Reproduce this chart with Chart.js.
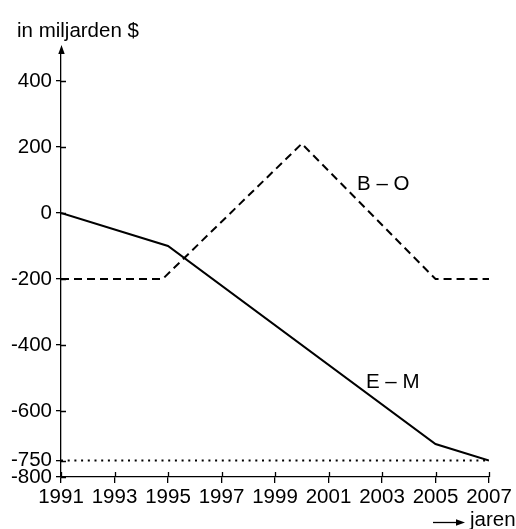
<!DOCTYPE html>
<html>
<head>
<meta charset="utf-8">
<script src="https://cdn.jsdelivr.net/npm/chart.js@4/dist/chart.umd.min.js"></script>
<style>html,body{margin:0;padding:0;background:#fff;}canvas{display:block;}</style>
</head>
<body>
<canvas id="c" width="516" height="529"></canvas>
<script>
// ---- data ----
const yearsEM = [1991, 1995, 2005, 2007];
const valuesEM = [0, -100, -700, -750];
const yearsBO = [1991, 1994.8, 2000, 2005, 2007];
const valuesBO = [-200, -200, 210, -200, -200];
const yearsRef = [1991, 2007];
const valuesRef = [-750, -750];
const yTickValues = [-800, -750, -600, -400, -200, 0, 200, 400];
const xTickValues = [1991, 1993, 1995, 1997, 1999, 2001, 2003, 2005, 2007];
const seriesLabels = ['E – M', 'B – O'];
const yAxisLabel = 'in miljarden $';
const xAxisLabel = 'jaren';

const FONT = '"Liberation Sans", Arial, sans-serif';
const FS = 20.5;

function pts(xs, ys) { return xs.map((x, i) => ({x: x, y: ys[i]})); }

const extras = {
  id: 'extras',
  afterDraw(chart) {
    const ctx = chart.ctx;
    const xs = chart.scales.x, ys = chart.scales.y;
    const ax = xs.left, ay = ys.bottom;
    ctx.save();
    ctx.strokeStyle = '#000';
    ctx.fillStyle = '#000';
    ctx.lineWidth = 1.3;
    // inner halves of tick marks
    ctx.beginPath();
    yTickValues.forEach(v => { const p = Math.round(ys.getPixelForValue(v)) + 0.5; ctx.moveTo(ax, p); ctx.lineTo(ax + 5, p); });
    xTickValues.forEach(v => { const p = Math.round(xs.getPixelForValue(v)) + 0.5; ctx.moveTo(p, ay); ctx.lineTo(p, ay - 5); });
    ctx.stroke();
    // arrow on y axis
    const top = ys.top;
    ctx.beginPath();
    ctx.moveTo(ax + 0.5, top - 5);
    ctx.lineTo(ax + 0.5 - 3.2, top + 4);
    ctx.lineTo(ax + 0.5 + 3.2, top + 4);
    ctx.closePath();
    ctx.fill();
    // texts
    ctx.font = FS + 'px ' + FONT;
    ctx.textBaseline = 'middle';
    ctx.textAlign = 'left';
    ctx.fillText(yAxisLabel, 17, 31);
    ctx.fillText(seriesLabels[1], xs.getPixelForValue(2002.07), ys.getPixelForValue(88));
    ctx.fillText(seriesLabels[0], xs.getPixelForValue(2002.4), ys.getPixelForValue(-512));
    ctx.fillText(xAxisLabel, 470, 520);
    // jaren arrow
    ctx.beginPath();
    ctx.moveTo(433, 522.5); ctx.lineTo(458, 522.5);
    ctx.stroke();
    ctx.beginPath();
    ctx.moveTo(465, 522.5); ctx.lineTo(456, 519.3); ctx.lineTo(456, 525.7); ctx.closePath();
    ctx.fill();
    ctx.restore();
  }
};

new Chart(document.getElementById('c'), {
  type: 'line',
  data: {
    datasets: [
      { label: seriesLabels[0], data: pts(yearsEM, valuesEM), borderColor: '#000', borderWidth: 2, pointRadius: 0, tension: 0, fill: false },
      { label: seriesLabels[1], data: pts(yearsBO, valuesBO), borderColor: '#000', borderWidth: 2, borderDash: [8, 5], pointRadius: 0, tension: 0, fill: false },
      { label: 'ref', data: pts(yearsRef, valuesRef), borderColor: '#000', borderWidth: 2, borderDash: [2, 4.7], pointRadius: 0, tension: 0, fill: false }
    ]
  },
  options: {
    responsive: false,
    animation: false,
    layout: { padding: { top: 50, right: 27, left: 0, bottom: 0 } },
    plugins: { legend: { display: false }, tooltip: { enabled: false } },
    scales: {
      x: {
        type: 'linear', min: 1991, max: 2007,
        afterBuildTicks: s => { s.ticks = xTickValues.map(v => ({value: v})); },
        afterFit: s => { s.height = 52; },
        grid: { display: true, drawOnChartArea: false, drawTicks: true, tickLength: 6, color: '#000', lineWidth: 1.3 },
        border: { display: true, color: '#000', width: 1.3 },
        ticks: { autoSkip: false, maxRotation: 0, padding: 2, color: '#000', font: { family: FONT, size: FS }, callback: v => String(v) }
      },
      y: {
        type: 'linear', min: -800, max: 494,
        afterBuildTicks: s => { s.ticks = yTickValues.map(v => ({value: v})); },
        afterFit: s => { s.width = 61; },
        grid: { display: true, drawOnChartArea: false, drawTicks: true, tickLength: 5, color: '#000', lineWidth: 1.3 },
        border: { display: true, color: '#000', width: 1.3 },
        ticks: { autoSkip: false, padding: 4, color: '#000', font: { family: FONT, size: FS }, callback: v => String(v) }
      }
    }
  },
  plugins: [extras]
});
</script>
</body>
</html>
